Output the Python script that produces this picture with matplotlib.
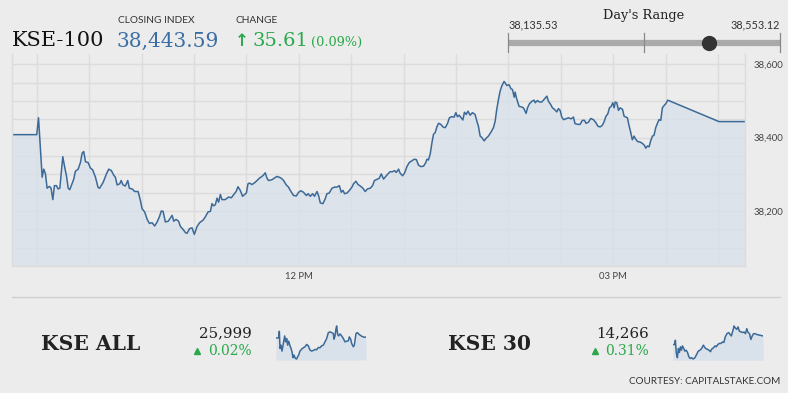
import matplotlib
matplotlib.use('Agg')
import matplotlib.pyplot as plt
from matplotlib.ticker import FixedLocator, FuncFormatter

# KSE-100 intraday, minutes after 09:30 open
minutes = [-14, 0, 1.0, 3.1, 4.0, 5.0, 5.9, 7.3, 8.2, 9.2, 10.1, 11.3, 12.2, 13.2, 14.9, 16.0,
           17.0, 18.0, 18.9, 20.2, 21.2, 22.1, 23.7, 25.0, 26.0, 26.9, 27.9, 29.4, 30.7, 32.0,
           33.6, 35.1, 36.0, 38.0, 39.9, 41.2, 42.7, 44.0, 45.0, 46.0, 47.5, 48.3, 49.4, 50.7,
           52.1, 53.0, 54.6, 56.1, 58.0, 59.3, 60.3, 61.8, 63.2, 64.5, 66.0, 67.5, 68.9, 70.2,
           71.3, 72.3, 73.6, 75.2, 76.5, 77.5, 78.4, 79.7, 81.2, 82.2, 83.7, 85.1, 86.0, 87.5,
           88.9, 90.2, 91.7, 93.2, 95.2, 96.5, 98.0, 99.4, 100.3, 101.2, 102.2, 103.2, 104.1,
           105.1, 106.0, 107.9, 109.8, 111.4, 112.7, 114.1, 115.2, 116.5, 117.8, 119.0, 120.0,
           120.9, 121.8, 123.2, 124.7, 126.1, 127.6, 128.9, 129.8, 130.8, 131.8, 132.7, 134.6,
           136.1, 137.5, 138.8, 140.0, 141.3, 142.8, 144.1, 145.5, 147.0, 148.6, 149.9, 151.2,
           152.7, 154.3, 155.3, 156.6, 157.9, 159.0, 160.4, 161.3, 162.3, 163.8, 165.1, 166.1,
           167.4, 169.0, 170.5, 171.8, 173.2, 174.3, 175.3, 176.2, 177.6, 179.0, 180.4, 181.3,
           182.7, 183.9, 185.2, 186.7, 188.0, 189.3, 190.9, 192.2, 193.3, 194.7, 196.0, 197.2,
           198.5, 199.9, 201.0, 202.3, 203.7, 204.8, 205.8, 207.1, 208.0, 209.4, 210.5, 211.9,
           213.2, 214.8, 216.1, 217.3, 218.5, 219.9, 221.4, 222.7, 223.3, 224.2, 225.2, 226.2,
           227.1, 228.1, 229.0, 230.0, 231.3, 232.5, 233.8, 235.1, 236.2, 237.6, 238.9, 239.9,
           240.8, 241.8, 242.9, 243.9, 244.8, 245.8, 246.8, 248.1, 249.4, 250.9, 251.9, 252.8,
           253.8, 254.8, 256.1, 257.2, 258.5, 259.9, 261.4, 262.4, 263.3, 264.3, 265.2, 266.2,
           267.5, 269.1, 270.4, 271.4, 272.3, 273.3, 273.8, 274.8, 276.1, 277.3, 278.6, 280.1,
           280.9, 282.0, 283.4, 284.7, 285.3, 286.6, 287.7, 289.1, 290.4, 292.0, 292.9, 294.2,
           295.2, 296.3, 297.7, 298.6, 299.6, 300.5, 301.5, 302.8, 304.3, 305.9, 307.2, 308.1,
           309.7, 311.0, 312.3, 313.5, 314.4, 315.8, 317.1, 318.6, 320.0, 321.2, 322.5, 323.8,
           324.9, 325.7, 326.9, 327.8, 328.8, 329.7, 330.5, 331.1, 332.0, 333.0, 333.9, 335.3,
           336.2, 337.2, 338.1, 339.1, 340.0, 340.9, 341.9, 342.9, 344.0, 345.3, 346.7, 347.8,
           348.6, 349.5, 350.5, 351.4, 352.4, 353.3, 354.3, 355.2, 356.2, 357.2, 358.1, 359.2,
           360.0, 361.2, 390.5, 405.4]
values = [38408, 38408, 38454, 38292, 38314, 38301, 38262, 38267, 38262, 38231, 38269, 38269,
          38260, 38262, 38348, 38319, 38296, 38262, 38258, 38274, 38287, 38308, 38314, 38332,
          38358, 38362, 38334, 38332, 38317, 38312, 38292, 38264, 38262, 38278, 38301, 38314,
          38310, 38298, 38292, 38271, 38274, 38283, 38271, 38268, 38283, 38262, 38260, 38253,
          38253, 38229, 38206, 38197, 38177, 38166, 38168, 38159, 38170, 38184, 38200, 38199,
          38170, 38172, 38181, 38188, 38172, 38177, 38172, 38158, 38150, 38141, 38139, 38152,
          38154, 38136, 38157, 38168, 38175, 38184, 38197, 38199, 38220, 38214, 38217, 38235,
          38224, 38245, 38231, 38231, 38238, 38236, 38244, 38253, 38266, 38256, 38240, 38245,
          38249, 38274, 38276, 38272, 38277, 38283, 38290, 38294, 38298, 38304, 38289, 38283,
          38285, 38290, 38294, 38292, 38289, 38283, 38271, 38265, 38253, 38242, 38241, 38251,
          38255, 38251, 38242, 38247, 38240, 38247, 38240, 38253, 38242, 38222, 38220, 38233,
          38247, 38249, 38262, 38265, 38265, 38269, 38251, 38256, 38247, 38249, 38256, 38265,
          38274, 38281, 38272, 38268, 38262, 38253, 38260, 38262, 38269, 38283, 38286, 38289,
          38301, 38287, 38295, 38301, 38307, 38307, 38310, 38305, 38314, 38303, 38296, 38303,
          38321, 38332, 38337, 38341, 38340, 38325, 38321, 38322, 38332, 38341, 38339, 38355,
          38386, 38409, 38414, 38429, 38439, 38436, 38429, 38427, 38438, 38454, 38457, 38456,
          38468, 38457, 38461, 38454, 38448, 38469, 38463, 38472, 38461, 38468, 38463, 38445,
          38431, 38404, 38400, 38391, 38398, 38404, 38414, 38427, 38445, 38477, 38504, 38526,
          38541, 38553, 38542, 38544, 38533, 38531, 38510, 38524, 38504, 38485, 38484, 38481,
          38466, 38481, 38492, 38499, 38502, 38495, 38501, 38497, 38497, 38504, 38513, 38499,
          38490, 38481, 38477, 38470, 38479, 38474, 38456, 38449, 38451, 38454, 38451, 38456,
          38438, 38436, 38436, 38447, 38447, 38439, 38442, 38452, 38449, 38441, 38431, 38429,
          38434, 38445, 38457, 38465, 38481, 38485, 38495, 38481, 38497, 38495, 38474, 38481,
          38477, 38458, 38456, 38454, 38431, 38414, 38394, 38404, 38395, 38389, 38388, 38384,
          38379, 38371, 38377, 38375, 38391, 38404, 38406, 38427, 38438, 38449, 38447, 38481,
          38488, 38492, 38502, 38443.59, 38443.59]

closing_index = 38443.59
change = 35.61
change_pct = 0.09
day_low = 38135.53
day_high = 38553.12

# sparklines (position along session, index level)
kse_all_x = [18, 26, 28, 30, 33, 36, 40, 44, 47, 50, 53, 56, 60, 63, 66, 69, 72, 76, 80, 83, 86,
             90, 95, 100, 105, 110, 115, 120, 125, 130, 135, 140, 145, 150, 155, 160, 165, 170,
             175, 180, 185, 190, 192, 195, 198, 200, 203, 206, 210, 215, 220, 225, 230, 235,
             238, 242, 245, 250, 253, 258, 262, 268, 275, 282, 288]
kse_all_v = [25994, 25994, 26034, 25930, 25950, 25914, 25960, 26006, 25970, 25990, 25950, 25974,
             25946, 25930, 25910, 25874, 25890, 25870, 25866, 25880, 25890, 25914, 25926, 25934,
             25940, 25954, 25946, 25920, 25914, 25918, 25924, 25922, 25936, 25934, 25946, 25950,
             25970, 25990, 26026, 26030, 26026, 26020, 25986, 26006, 26050, 26066, 26014, 26006,
             26018, 26006, 25990, 25970, 25974, 25976, 26000, 25986, 25960, 25940, 25950, 26020,
             26026, 26014, 26004, 25998, 25999]
kse30_x = [25, 30, 32, 35, 38, 41, 44, 47, 50, 53, 57, 60, 64, 68, 72, 76, 80, 85, 90, 95, 100,
           105, 110, 115, 118, 122, 128, 132, 136, 140, 145, 150, 153, 158, 162, 167, 172, 176,
           180, 185, 190, 194, 198, 203, 206, 210, 214, 218, 222, 228, 232, 236, 240, 244, 247,
           252, 256, 260, 264, 268, 275, 282, 292]
kse30_v = [14220, 14220, 14243, 14173, 14150, 14199, 14178, 14208, 14190, 14213, 14199, 14185,
           14190, 14178, 14155, 14146, 14150, 14143, 14150, 14167, 14185, 14190, 14199, 14217,
           14208, 14199, 14194, 14190, 14182, 14196, 14203, 14213, 14208, 14220, 14226, 14226,
           14234, 14231, 14261, 14278, 14284, 14275, 14266, 14296, 14319, 14308, 14301, 14314,
           14291, 14287, 14284, 14287, 14278, 14305, 14287, 14278, 14247, 14266, 14278, 14278,
           14273, 14270, 14266]

BG = '#ececec'
GRID = '#dcdcdc'
LINE = '#3b6a98'
FILL = '#d9e1ea'
GREEN = '#2aa84a'
BLUE = '#3a6ea5'
DARK = '#222222'
W, H = 788, 393


def fbox(x0, y0, x1, y1):
    # pixel box (top-left origin) -> figure rect
    return [x0 / W, 1 - y1 / H, (x1 - x0) / W, (y1 - y0) / H]


def sparkline(fig, rect, xs, vs):
    ax = fig.add_axes(fbox(*rect))
    ax.fill_between(xs, vs, min(vs) - 6, color=FILL, lw=0)
    ax.plot(xs, vs, color=LINE, lw=1.1)
    ax.set_xlim(xs[0], xs[-1])
    span = max(vs) - min(vs)
    ax.set_ylim(min(vs) - span * 0.03, max(vs) + span * 0.03)
    ax.axis('off')
    return ax


fig = plt.figure(figsize=(W / 100, H / 100), dpi=100, facecolor=BG)

# overlay in pixel coordinates for header/footer
bg = fig.add_axes([0, 0, 1, 1])
bg.set_xlim(0, W)
bg.set_ylim(H, 0)
bg.axis('off')

serif = 'DejaVu Serif'
sans = 'Lato'

bg.text(12, 46, 'KSE-100', fontsize=15, family=serif, color='#111111', va='baseline')
bg.text(118, 23, 'CLOSING INDEX', fontsize=7.3, family=sans, color='#333333', va='baseline')
bg.text(117, 47, f'{closing_index:,.2f}', fontsize=14.5, family=serif, color=BLUE, va='baseline')
bg.text(236, 23, 'CHANGE', fontsize=7.3, family=sans, color='#333333', va='baseline')
bg.text(235, 46, '\u2191', fontsize=12, family='DejaVu Sans', color=GREEN, va='baseline',
        fontweight='bold')
bg.text(253, 46, f'{change:.2f}', fontsize=14, family=serif, color=GREEN, va='baseline')
bg.text(311, 46, f'({change_pct:.2f}%)', fontsize=9.3, family=serif, color=GREEN, va='baseline')

# day's range slider
bar_x0, bar_x1, bar_y = 508, 780, 43
bg.text((bar_x0 + bar_x1) / 2, 18.5, "Day's Range", fontsize=9.3, family=serif,
        color=DARK, ha='center', va='baseline')
bg.text(bar_x0, 28.5, f'{day_low:,.2f}', fontsize=7.8, family=sans, color='#333333', va='baseline')
bg.text(bar_x1, 28.5, f'{day_high:,.2f}', fontsize=7.8, family=sans, color='#333333',
        va='baseline', ha='right')
bg.plot([bar_x0, bar_x1], [bar_y, bar_y], color='#aaaaaa', lw=4.5, solid_capstyle='butt')
for tx in (bar_x0, (bar_x0 + bar_x1) / 2, bar_x1):
    bg.plot([tx, tx], [33, 52], color='#888888', lw=0.9)
dot_x = bar_x0 + (closing_index - day_low) / (day_high - day_low) * (bar_x1 - bar_x0)
bg.plot(dot_x, bar_y, 'o', color='#333333', ms=10)

# footer
bg.plot([12, 780], [297, 297], color='#cfcfcf', lw=1)
bg.text(41, 350, 'KSE ALL', fontsize=14.6, family=serif, fontweight='bold', color=DARK,
        va='baseline')
bg.text(252, 337, '25,999', fontsize=10.8, family=serif, color=DARK, va='baseline', ha='right')
bg.text(252, 355, '0.02%', fontsize=10, family=serif, color=GREEN, va='baseline', ha='right')
bg.plot(197.5, 351, '^', color=GREEN, ms=4)
bg.text(448, 350, 'KSE 30', fontsize=14.6, family=serif, fontweight='bold', color=DARK,
        va='baseline')
bg.text(649, 337, '14,266', fontsize=10.8, family=serif, color=DARK, va='baseline', ha='right')
bg.text(649, 355, '0.31%', fontsize=10, family=serif, color=GREEN, va='baseline', ha='right')
bg.plot(595, 351, '^', color=GREEN, ms=4)
bg.text(780, 384, 'COURTESY: CAPITALSTAKE.COM', fontsize=7.1, family=sans, color='#333333',
        va='baseline', ha='right')

sparkline(fig, (276, 325, 366, 360), kse_all_x, kse_all_v)
sparkline(fig, (673, 325, 763, 360), kse30_x, kse30_v)

# main intraday chart
ax = fig.add_axes(fbox(12.3, 54.3, 745, 266))
ax.set_facecolor(BG)
ax.fill_between(minutes, values, 38050, color=FILL, alpha=0.8, lw=0)
ax.plot(minutes, values, color=LINE, lw=1.1)
ax.set_xlim(-14, 405.4)
ax.set_ylim(38050, 38627)

ax.yaxis.set_major_locator(FixedLocator(list(range(38050, 38601, 50))))
ax.yaxis.set_major_formatter(FuncFormatter(lambda v, p: f'{int(v):,}' if v % 200 == 0 else ''))
ax.xaxis.set_major_locator(FixedLocator(list(range(0, 391, 30))))
xlabels = {150: '12 PM', 330: '03 PM'}
ax.xaxis.set_major_formatter(FuncFormatter(lambda v, p: xlabels.get(int(round(v)), '')))
ax.yaxis.tick_right()
ax.tick_params(length=0, labelsize=6.8, labelcolor='#444444', pad=6)
ax.tick_params(axis='x', pad=4.5)
for lab in ax.get_xticklabels() + ax.get_yticklabels():
    lab.set_family(sans)
ax.grid(True, color=GRID, lw=1)
ax.set_axisbelow(True)
ax.spines['top'].set_visible(False)
for side in ('left', 'right', 'bottom'):
    ax.spines[side].set_color(GRID)
    ax.spines[side].set_linewidth(1)

fig.savefig('out.png', dpi=100, facecolor=BG)
